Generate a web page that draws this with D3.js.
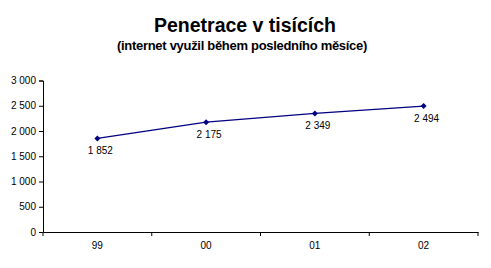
<html>
<head>
<script src="https://d3js.org/d3.v7.min.js"></script>
<style>
body { margin: 0; background: #fff; }
text { font-family: "Liberation Sans", Arial, sans-serif; fill: #000; }
</style>
</head>
<body>
<div></div>
<script>
// chart data
var years = ["99", "00", "01", "02"];
var values = [1852, 2175, 2349, 2494];
var yTicks = [0, 500, 1000, 1500, 2000, 2500, 3000];

var width = 491, height = 268;
var plotLeft = 43, plotRight = 478, plotTop = 80.5, plotBottom = 232;

var svg = d3.select("div").append("svg")
	.attr("width", width)
	.attr("height", height);

var x = d3.scaleBand().domain(years).range([plotLeft, plotRight]);
var y = d3.scaleLinear().domain([0, 3000]).range([plotBottom, plotTop]);

var fmt = function(d){ return d3.format(",")(d).replace(/,/g, " "); };

// titles
svg.append("text").attr("x", 245).attr("y", 32)
	.attr("text-anchor", "middle")
	.style("font-size", "19.5px").style("font-weight", "bold")
	.text("Penetrace v tisících");
svg.append("text").attr("x", 242).attr("y", 50)
	.attr("text-anchor", "middle")
	.style("font-size", "13px").style("font-weight", "bold")
	.style("letter-spacing", "-0.3px")
	.text("(internet využil během posledního měsíce)");

// y axis
var yAxis = svg.append("g").attr("transform", "translate(" + plotLeft + ",0)")
	.call(d3.axisLeft(y).tickValues(yTicks).tickFormat(fmt).tickSizeOuter(0).tickSize(4).tickPadding(3));
yAxis.selectAll("text").style("font-size", "10px");

// x axis with ticks on band edges
var xAxis = svg.append("g").attr("transform", "translate(0," + plotBottom + ")")
	.call(d3.axisBottom(x).tickSize(0).tickPadding(10));
xAxis.selectAll("text").style("font-size", "10px");
var edges = years.map(function(d){ return x(d); }).concat([plotRight]);
xAxis.selectAll(".edge").data(edges).enter().append("line")
	.attr("x1", function(d){ return d; }).attr("x2", function(d){ return d; })
	.attr("y1", 0).attr("y2", 4).attr("stroke", "#000");
svg.selectAll(".domain").attr("stroke", "#000");
svg.selectAll(".tick line").attr("stroke", "#000");

// line
var cx = function(d, i){ return x(years[i]) + x.bandwidth() / 2; };
var line = d3.line().x(cx).y(function(d){ return y(d); });
svg.append("path").datum(values)
	.attr("d", line)
	.attr("fill", "none")
	.attr("stroke", "#000080")
	.attr("stroke-width", 1.3);

svg.selectAll(".pt").data(values).enter().append("path")
	.attr("transform", function(d, i){ return "translate(" + cx(d, i) + "," + y(d) + ") rotate(45)"; })
	.attr("d", d3.symbol(d3.symbolSquare, 18)())
	.attr("fill", "#000080");

svg.selectAll(".lbl").data(values).enter().append("text")
	.attr("x", function(d, i){ return cx(d, i) + 3; })
	.attr("y", function(d){ return y(d) + 16; })
	.attr("text-anchor", "middle")
	.style("font-size", "10px")
	.text(fmt);
</script>
</body>
</html>
